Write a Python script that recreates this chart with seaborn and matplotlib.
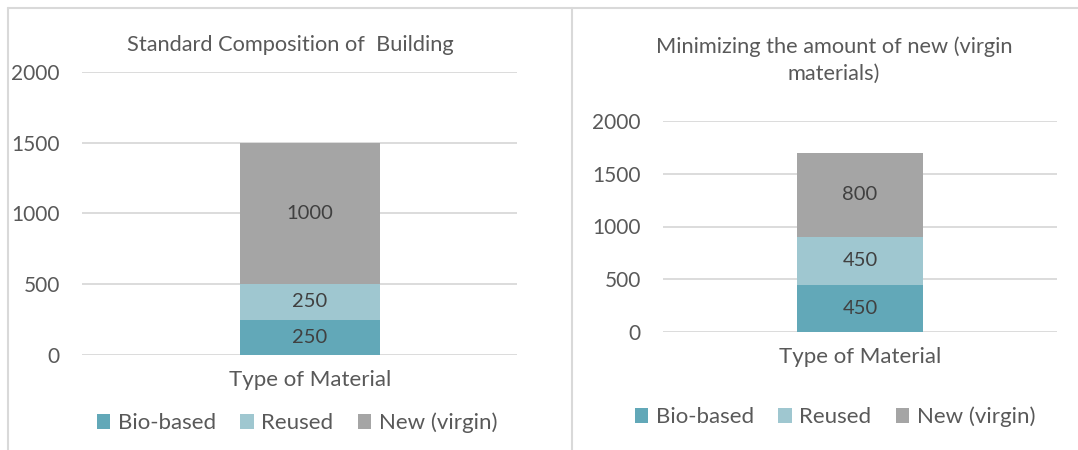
import pandas as pd
import seaborn as sns
import matplotlib.pyplot as plt
from matplotlib.lines import Line2D

sns.set_theme(style="white")
plt.rcParams["font.family"] = ["Lato", "DejaVu Sans"]

categories = ["Type of Material"]
series = ["Bio-based", "Reused", "New (virgin)"]
standard_vals = [250, 250, 1000]
minimized_vals = [450, 450, 800]
colors = ["#62A8B8", "#9FC7D0", "#A5A5A5"]
titles = ["Standard Composition of  Building",
          "Minimizing the amount of new (virgin\nmaterials)"]

TEXT = "#595959"
GRID = "#D9D9D9"


def stacked_bar(ax, values, shift=0.0):
    df = pd.DataFrame({"category": categories * len(series),
                       "series": series,
                       "value": values})
    df["top"] = df["value"].cumsum()
    # draw tallest (cumulative) first so smaller stacks sit on top
    for i in reversed(range(len(series))):
        sns.barplot(x=[categories[0]], y=[df["top"][i]], color=colors[i],
                    saturation=1, width=0.32, linewidth=0, ax=ax,
                    label=series[i])
        bottom = df["top"][i] - df["value"][i]
        ax.text(0, bottom + df["value"][i] / 2, str(df["value"][i]),
                ha="center", va="center", fontsize=14.5, color="#404040")
    ax.set_ylim(0, 2000)
    ax.set_yticks([0, 500, 1000, 1500, 2000])
    ax.set_xlim(-0.5 - shift, 0.5 - shift)
    ax.yaxis.grid(True, color=GRID, lw=1.3)
    ax.set_axisbelow(True)
    for s in ax.spines.values():
        s.set_visible(False)
    ax.tick_params(axis="y", length=0, pad=16, labelsize=15, labelcolor=TEXT)
    ax.tick_params(axis="x", length=0, pad=11, labelsize=16, labelcolor=TEXT)
    ax.set_xlabel("")
    ax.set_ylabel("")
    if ax.get_legend() is not None:
        ax.get_legend().remove()
    handles, labels = ax.get_legend_handles_labels()
    order = [labels.index(s) for s in series]
    return [handles[k] for k in order]


fig = plt.figure(figsize=(10.78, 4.5), dpi=100)
ax1 = fig.add_axes([82 / 1078, 1 - 355 / 450, 435 / 1078, 283 / 450])
ax2 = fig.add_axes([663 / 1078, 1 - 332 / 450, 394 / 1078, 211 / 450])

h1 = stacked_bar(ax1, standard_vals, shift=0.024)
h2 = stacked_bar(ax2, minimized_vals)

fig.text(290 / 1078, 1 - 45 / 450, titles[0], ha="center", va="center",
         fontsize=15.7, color=TEXT)
fig.text(834 / 1078, 1 - 60 / 450, titles[1], ha="center", va="center",
         fontsize=15.7, color=TEXT, linespacing=1.45)

for handles, cx, cy in [(h1, 297, 423), (h2, 835, 417)]:
    fig.legend(handles, series, loc="center", ncol=3, frameon=False,
               bbox_to_anchor=(cx / 1078, 1 - cy / 450), fontsize=16,
               labelcolor=TEXT, handlelength=0.6, handleheight=0.6,
               handletextpad=0.35, columnspacing=1.1)

# chart borders
fig.add_artist(Line2D([8 / 1078, 1], [1 - 8 / 450] * 2, color=GRID, lw=1.5))
fig.add_artist(Line2D([8 / 1078] * 2, [0, 1 - 8 / 450], color=GRID, lw=1.5))
fig.add_artist(Line2D([572 / 1078] * 2, [0, 1 - 8 / 450], color=GRID, lw=1.5))

fig.savefig("out.png", dpi=100)
